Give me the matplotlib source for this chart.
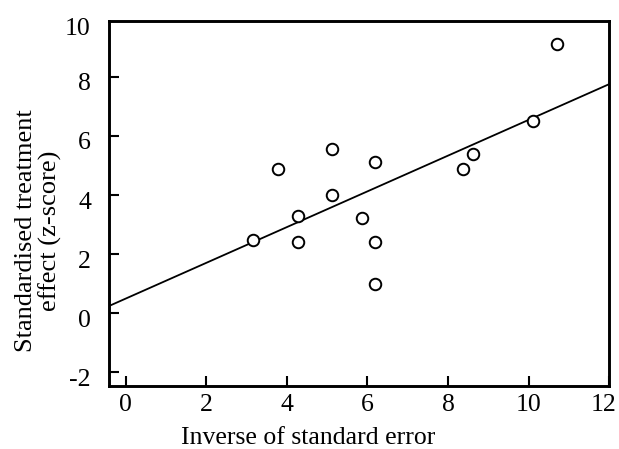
import matplotlib
matplotlib.use("Agg")
import matplotlib.pyplot as plt
import matplotlib.transforms as mtransforms
import numpy as np

# Data
precision = [3.16, 3.78, 4.28, 4.28, 5.12, 5.12, 5.86, 6.18, 6.18, 6.18, 8.37, 8.61, 10.12, 10.70]
zscore = [2.47, 4.87, 3.29, 2.41, 5.57, 3.99, 3.22, 5.12, 2.41, 1.00, 4.87, 5.38, 6.51, 9.10]
line_intercept = 0.495
line_slope = 0.605
x_ticks = [0, 2, 4, 6, 8, 10, 12]
y_ticks = [-2, 0, 2, 4, 6, 8]
x_label = "Inverse of standard error"
y_label = "Standardised treatment\neffect (z-score)"

plt.rcParams['font.family'] = ['Liberation Serif', 'DejaVu Serif']
plt.rcParams['axes.unicode_minus'] = False

fig = plt.figure(figsize=(6.19, 4.49), dpi=100)
ax = fig.add_axes([0.1761, 0.1403, 0.9843 - 0.1761, 0.9539 - 0.1403])

xmin, xmax = -0.41, 12.0
ymin, ymax = -2.46, 9.9
xs = np.array([xmin, xmax])
ax.plot(xs, line_intercept + line_slope * xs, color='black', lw=1.3, zorder=2)
ax.plot(precision, zscore, linestyle='none', marker='o', markersize=8.3,
        markerfacecolor='white', markeredgecolor='black', markeredgewidth=1.4, zorder=3)

ax.set_xlim(xmin, xmax)
ax.set_ylim(ymin, ymax)
ax.set_xticks(x_ticks)
ax.set_yticks(y_ticks)
ax.tick_params(direction='in', length=7.5, width=1.5, labelsize=18.5)
ax.tick_params(axis='x', pad=6)
ax.tick_params(axis='y', pad=13)
for s in ax.spines.values():
    s.set_linewidth(2.1)

down = mtransforms.ScaledTranslation(0, -5 / 100, fig.dpi_scale_trans)
for lab in ax.get_yticklabels():
    lab.set_transform(lab.get_transform() + down)
# last x tick label nudged left so it stays inside the figure
xl = ax.get_xticklabels()
xl[-1].set_transform(xl[-1].get_transform() + mtransforms.ScaledTranslation(-6 / 100, 0, fig.dpi_scale_trans))

# "10" label sits just above the top of the axis
trans = mtransforms.blended_transform_factory(ax.transAxes, ax.transData)
ax.text(-0.0366, 9.72, "10", transform=trans, fontsize=18.5,
        ha='right', va='center_baseline', clip_on=False)

ax.set_xlabel(x_label, fontsize=18.5)
ax.xaxis.set_label_coords(0.399, -0.113)
ax.set_ylabel(y_label, fontsize=19, linespacing=1.1)
ax.yaxis.set_label_coords(-0.094, 0.424)

fig.savefig("out.png", dpi=100)
